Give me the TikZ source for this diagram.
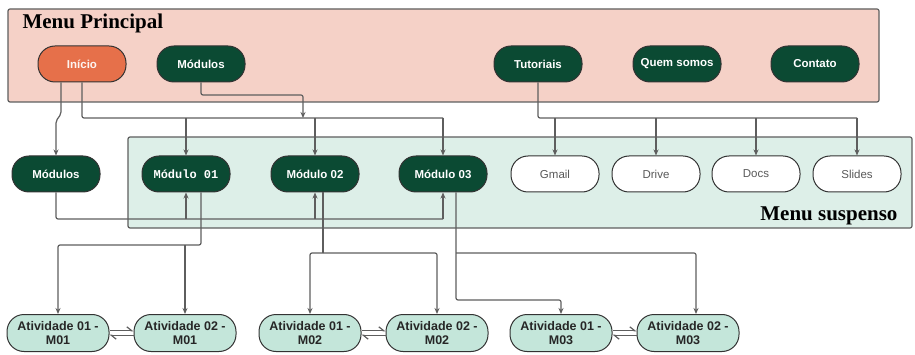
\documentclass[tikz,border=0pt]{standalone}
\usepackage{fontspec}
\setmainfont{Liberation Sans}
\setmonofont{Liberation Mono}
\newfontfamily\titlefont{Liberation Serif}
\usetikzlibrary{positioning,calc,arrows.meta}

\definecolor{verde}{HTML}{0B4A33}
\definecolor{rosa}{HTML}{F5D1C7}
\definecolor{laranja}{HTML}{E6704A}
\definecolor{agua}{HTML}{DDEFE8}
\definecolor{atv}{HTML}{C4E6DA}
\definecolor{linha}{HTML}{5E5E5E}

\tikzset{
    menubox/.style={draw=linha, line width=1.2pt, rounded corners=2pt},
    btn/.style={draw=black!80, line width=1pt, rounded corners=17pt, minimum width=88pt, minimum height=36pt, inner sep=2pt, fill=verde, text=white, font=\bfseries\fontsize{11.5}{13}\selectfont},
    btnoff/.style={btn, fill=white, text=black!65, font=\fontsize{11.5}{13}\selectfont},
    atvbox/.style={btn, minimum width=102pt, minimum height=37pt, fill=atv, text=black!85, align=center, font=\bfseries\fontsize{12.5}{13.5}\selectfont},
    con/.style={draw=linha, line width=1.2pt, rounded corners=2pt},
    arr/.style={con, -{Stealth[length=6pt,width=5pt]}},
    harp/.style={draw=linha, line width=1.2pt, -{Straight Barb[harpoon,length=5pt,width=8pt]}}
}

\begin{document}
\begin{tikzpicture}[x=1pt,y=-1pt]
    \useasboundingbox (0,0) rectangle (915,355);

    % fundos dos menus
    \draw[menubox, fill=rosa] (8,9) rectangle (879,102);
    \draw[menubox, fill=agua] (128,137) rectangle (912,228);
    \node[anchor=west, font=\titlefont\bfseries\fontsize{21}{23}\selectfont] (tprinc) at (19,23) {Menu Principal};
    \node[anchor=east, font=\titlefont\bfseries\fontsize{21}{23}\selectfont] (tsusp) at (901,216) {Menu suspenso};

    % menu principal
    \node[btn, fill=laranja, text=white!92!laranja] (inicio) at (82,64) {Início};
    \node[btn] (modtop) at (201,64) {Módulos};
    \node[btn] (tut) at (538,64) {Tutoriais};
    \node[btn] (quem) at (677,64) {Quem somos};
    \node[btn] (contato) at (815,64) {Contato};

    % menu suspenso
    \node[btn] (modl) at (56,174) {Módulos};
    \node[btn, font=\ttfamily\bfseries\fontsize{12}{13}\selectfont] (m1) at (186,174) {Módulo 01};
    \node[btn] (m2) at (315,174) {Módulo 02};
    \node[btn] (m3) at (443,174) {Módulo 03};
    \foreach \s/\t/\x in {gmail/Gmail/555, drive/Drive/656, docs/Docs/756, slides/Slides/857} {
        \node[btnoff] (\s) at (\x,174) {\t};
    }

    % atividades
    \foreach \i/\x/\y in {1/58/185, 2/310/437, 3/561/688} {
        \node[atvbox] (a1\i) at (\x,333) {Atividade 01 -\\M0\i};
        \node[atvbox] (a2\i) at (\y,333) {Atividade 02 -\\M0\i};
        \draw[harp] ([yshift=2.2pt]a1\i.east) -- ([yshift=2.2pt]a2\i.west);
        \draw[harp] ([yshift=-2.2pt]a2\i.west) -- ([yshift=-2.2pt]a1\i.east);
    }

    % ligacoes do menu principal
    \draw[arr] ([xshift=-21pt]inicio.south) -- (61,114) -- (56,121) -- (modl.north);
    \draw[con] (inicio.south) |- (443,118);
    \draw[arr] (modtop.south) |- (303,95) -- (303,118);
    \foreach \m in {m1,m2,m3} {
        \draw[arr] (\m.north |- 0,118) -- (\m.north);
    }
    \draw[con] (tut.south) |- (857,118);
    \foreach \s in {gmail,drive,docs,slides} {
        \draw[arr] (\s.north |- 0,118) -- (\s.north);
    }

    % ligacoes do menu suspenso
    \draw[con] (modl.south) |- (443,219);
    \foreach \m in {m1,m2,m3} {
        \draw[arr] (\m.south |- 0,219) -- (\m.south);
    }

    % ligacoes dos modulos
    \draw[arr] ([xshift=15pt]m1.south) |- (a11.north |- 0,245) -- (a11.north);
    \draw[arr] (a21.north |- 0,245) -- (a21.north);
    \draw[con] ([xshift=8pt]m2.south) -- (323,253);
    \draw[arr] (323,253) -| (a12.north);
    \draw[arr] (323,253) -| (a22.north);
    \draw[arr] ([xshift=13pt]m3.south) |- (a13.north |- 0,300) -- (a13.north);
    \draw[arr] (456,253) -| ([xshift=8pt]a23.north);
\end{tikzpicture}
\end{document}
